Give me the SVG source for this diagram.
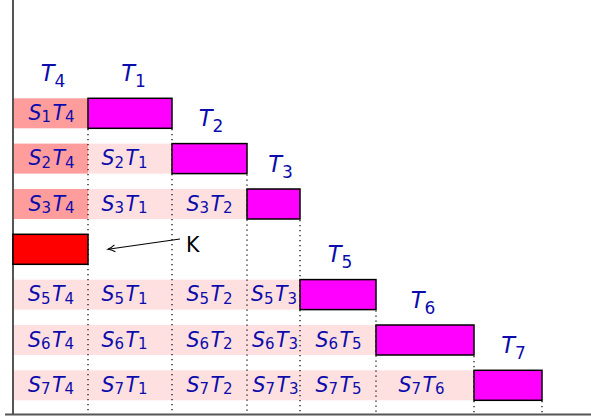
<svg xmlns="http://www.w3.org/2000/svg" width="591" height="418" viewBox="0 0 591 418">
<style>
  .dark { fill: #ff9c9c; }
  .light { fill: #ffe0e0; }
  .task { fill: #ff00ff; stroke: #000; stroke-width: 1.5; }
  .k { fill: #ff0000; stroke: #000; stroke-width: 1.5; }
  .guide { stroke: #000; stroke-width: 1.2; stroke-dasharray: 1.3 3.7; fill: none; }
  .axis { stroke: #555; stroke-width: 2; fill: none; }
  .m { font-family: "DejaVu Sans", sans-serif; font-size: 20.5px; font-style: italic; fill: #0c0cac; text-anchor: middle; }
  .m tspan.s { font-size: 15px; font-style: normal; }
  .t { font-family: "DejaVu Sans", sans-serif; font-size: 22.5px; font-style: italic; fill: #0c0cac; text-anchor: middle; }
  .t tspan.s { font-size: 17px; font-style: normal; }
  .lbl { font-family: "DejaVu Sans", sans-serif; font-size: 20.5px; fill: #000; }
</style>
<defs>
  <marker id="arr" viewBox="-8 -5 10 10" markerWidth="10" markerHeight="10" refX="0" refY="0" orient="auto" markerUnits="userSpaceOnUse">
    <path d="M -7 -3.5 Q -3 -0.8 0 0 Q -3 0.8 -7 3.5" fill="none" stroke="#000" stroke-width="1.1"/>
  </marker>
</defs>
<rect width="591" height="418" fill="#fff"/>

<g id="cells">
  <rect class="dark" x="13" y="98.3" width="75" height="30"/>
  <rect class="dark" x="13" y="143.6" width="75" height="30"/>
  <rect class="light" x="88" y="143.6" width="84" height="30"/>
  <rect class="dark" x="13" y="189" width="75" height="30"/>
  <rect class="light" x="88" y="189" width="159" height="30"/>
  <rect class="light" x="13" y="279.6" width="287" height="30"/>
  <rect class="light" x="13" y="325" width="363" height="30"/>
  <rect class="light" x="13" y="370.3" width="461" height="30"/>
</g>

<g id="guides">
  <line class="guide" x1="88" y1="129" x2="88" y2="414"/>
  <line class="guide" x1="172" y1="129" x2="172" y2="414"/>
  <line class="guide" x1="247" y1="174.5" x2="247" y2="414"/>
  <line class="guide" x1="300" y1="220" x2="300" y2="414"/>
  <line class="guide" x1="376" y1="310.5" x2="376" y2="414"/>
  <line class="guide" x1="474" y1="356" x2="474" y2="414"/>
  <line class="guide" x1="542" y1="401" x2="542" y2="414"/>
</g>

<g id="axes">
  <line class="axis" x1="13" y1="0" x2="13" y2="415"/>
  <line class="axis" x1="5" y1="414.5" x2="591" y2="414.5"/>
</g>

<g id="T1"><rect class="task" x="88" y="98.3" width="84" height="30"/><text class="t" x="133.5" y="80.8">T<tspan class="s" dy="6">1</tspan></text></g>
<g id="T2"><rect class="task" x="172" y="143.6" width="75" height="30"/><text class="t" x="211" y="126.1">T<tspan class="s" dy="6">2</tspan></text></g>
<g id="T3"><rect class="task" x="247" y="189" width="53" height="30"/><text class="t" x="280.5" y="171.5">T<tspan class="s" dy="6">3</tspan></text></g>
<g id="T5"><rect class="task" x="300" y="279.6" width="76" height="30"/><text class="t" x="340" y="262.1">T<tspan class="s" dy="6">5</tspan></text></g>
<g id="T6"><rect class="task" x="376" y="325" width="98" height="30"/><text class="t" x="423" y="307.5">T<tspan class="s" dy="6">6</tspan></text></g>
<g id="T7"><rect class="task" x="474" y="370.3" width="68" height="30"/><text class="t" x="513.5" y="352.8">T<tspan class="s" dy="6">7</tspan></text></g>
<g id="T4"><text class="t" x="53" y="80.8">T<tspan class="s" dy="6">4</tspan></text></g>
<g id="K"><rect class="k" x="13" y="234.3" width="75" height="30"/><text class="lbl" x="186" y="252.3">K</text></g>

<g id="labels">
  <text class="m" x="51.5" y="119.8">S<tspan class="s" dy="2.5">1</tspan><tspan dx="1.5" dy="-2.5">T</tspan><tspan class="s" dy="2.5">4</tspan></text>
  <text class="m" x="51.5" y="165.1">S<tspan class="s" dy="2.5">2</tspan><tspan dx="1.5" dy="-2.5">T</tspan><tspan class="s" dy="2.5">4</tspan></text>
  <text class="m" x="124.5" y="165.1">S<tspan class="s" dy="2.5">2</tspan><tspan dx="1.5" dy="-2.5">T</tspan><tspan class="s" dy="2.5">1</tspan></text>
  <text class="m" x="51.5" y="210.5">S<tspan class="s" dy="2.5">3</tspan><tspan dx="1.5" dy="-2.5">T</tspan><tspan class="s" dy="2.5">4</tspan></text>
  <text class="m" x="124.5" y="210.5">S<tspan class="s" dy="2.5">3</tspan><tspan dx="1.5" dy="-2.5">T</tspan><tspan class="s" dy="2.5">1</tspan></text>
  <text class="m" x="209.5" y="210.5">S<tspan class="s" dy="2.5">3</tspan><tspan dx="1.5" dy="-2.5">T</tspan><tspan class="s" dy="2.5">2</tspan></text>

  <text class="m" x="51" y="301.1">S<tspan class="s" dy="2.5">5</tspan><tspan dx="1.5" dy="-2.5">T</tspan><tspan class="s" dy="2.5">4</tspan></text>
  <text class="m" x="124.5" y="301.1">S<tspan class="s" dy="2.5">5</tspan><tspan dx="1.5" dy="-2.5">T</tspan><tspan class="s" dy="2.5">1</tspan></text>
  <text class="m" x="209.5" y="301.1">S<tspan class="s" dy="2.5">5</tspan><tspan dx="1.5" dy="-2.5">T</tspan><tspan class="s" dy="2.5">2</tspan></text>
  <text class="m" x="274" y="301.1">S<tspan class="s" dy="2.5">5</tspan><tspan dx="1.5" dy="-2.5">T</tspan><tspan class="s" dy="2.5">3</tspan></text>

  <text class="m" x="51" y="346.5">S<tspan class="s" dy="2.5">6</tspan><tspan dx="1.5" dy="-2.5">T</tspan><tspan class="s" dy="2.5">4</tspan></text>
  <text class="m" x="124.5" y="346.5">S<tspan class="s" dy="2.5">6</tspan><tspan dx="1.5" dy="-2.5">T</tspan><tspan class="s" dy="2.5">1</tspan></text>
  <text class="m" x="209.5" y="346.5">S<tspan class="s" dy="2.5">6</tspan><tspan dx="1.5" dy="-2.5">T</tspan><tspan class="s" dy="2.5">2</tspan></text>
  <text class="m" x="275" y="346.5">S<tspan class="s" dy="2.5">6</tspan><tspan dx="1.5" dy="-2.5">T</tspan><tspan class="s" dy="2.5">3</tspan></text>
  <text class="m" x="338.5" y="346.5">S<tspan class="s" dy="2.5">6</tspan><tspan dx="1.5" dy="-2.5">T</tspan><tspan class="s" dy="2.5">5</tspan></text>

  <text class="m" x="51" y="391.8">S<tspan class="s" dy="2.5">7</tspan><tspan dx="1.5" dy="-2.5">T</tspan><tspan class="s" dy="2.5">4</tspan></text>
  <text class="m" x="124.5" y="391.8">S<tspan class="s" dy="2.5">7</tspan><tspan dx="1.5" dy="-2.5">T</tspan><tspan class="s" dy="2.5">1</tspan></text>
  <text class="m" x="209.5" y="391.8">S<tspan class="s" dy="2.5">7</tspan><tspan dx="1.5" dy="-2.5">T</tspan><tspan class="s" dy="2.5">2</tspan></text>
  <text class="m" x="275.5" y="391.8">S<tspan class="s" dy="2.5">7</tspan><tspan dx="1.5" dy="-2.5">T</tspan><tspan class="s" dy="2.5">3</tspan></text>
  <text class="m" x="338.5" y="391.8">S<tspan class="s" dy="2.5">7</tspan><tspan dx="1.5" dy="-2.5">T</tspan><tspan class="s" dy="2.5">5</tspan></text>
  <text class="m" x="421.5" y="391.8">S<tspan class="s" dy="2.5">7</tspan><tspan dx="1.5" dy="-2.5">T</tspan><tspan class="s" dy="2.5">6</tspan></text>
</g>

<g id="connectors">
  <line x1="180" y1="239" x2="108" y2="249.3" stroke="#000" stroke-width="1.1" marker-end="url(#arr)"/>
</g>
</svg>
